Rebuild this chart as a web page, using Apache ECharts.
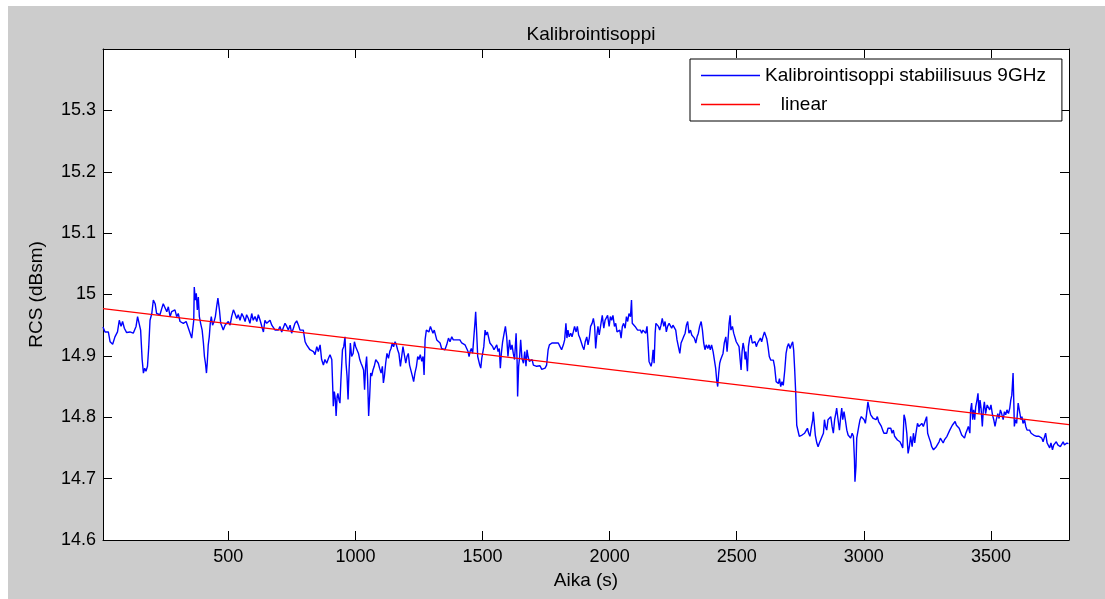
<!DOCTYPE html>
<html><head><meta charset="utf-8">
<script src="https://cdn.jsdelivr.net/npm/echarts@6/dist/echarts.min.js"></script>
<style>
html,body{margin:0;padding:0;background:#fff}
#c{width:1105px;height:599px;background:#cccccc;box-shadow:inset 8px 6px 0 0 #ffffff}
</style>
</head><body><div id="c"></div>
<script>
// Time (s)
const times = [
7,15,22,28,35,45,54,64,71,78,84,91,100,113,126,137,143,150,155,161,166,171,176,182,187,192,199,205,212,218,225,231,238,244,251,258,264,271,277,284,290,297,303,310,317,323,334,343,349,356,360,364,366,370,374,378,382,386,391,397,402,406,410,414,417,421,425,429,433,438,444,449,454,459,465,470,475,480,487,494,500,507,513,520,526,533,539,546,553,559,566,572,579,585,592,598,605,612,618,625,631,638,644,651,657,664,
671,677,684,690,697,703,710,717,723,730,736,743,749,756,762,769,776,782,789,795,802,808,815,821,828,835,841,848,854,861,867,874,880,887,894,900,907,911,913,917,921,924,928,931,935,939,943,949,954,959,963,967,971,975,980,985,991,996,1001,1006,1012,1017,1022,1027,1032,1036,1040,1044,1048,1052,1056,1060,1064,1069,1074,1080,1085,1090,1095,1101,1106,1110,1114,1119,1124,1130,1135,1140,1145,1150,1156,1161,1166,1171,1177,1182,1187,1192,1198,1203,1208,1213,1219,1224,1229,1234,1240,1245,1250,1255,1261,1266,1270,1274,1279,1284,1289,1295,1300,1305,1310,
1320,1326,1333,1339,1346,1352,1359,1366,1372,1379,1385,1392,1398,1405,1411,1418,1425,1431,1438,1443,1447,1451,1456,1461,1467,1470,1473,1477,1481,1485,1489,1493,1497,1501,1505,1510,1514,1519,1524,1529,1535,1540,1545,1550,1556,1561,1566,1570,1574,1579,1585,1590,1595,1600,1606,1611,1616,1621,1626,1632,1636,1638,1642,1646,1650,1655,1661,1666,1671,1675,1679,1684,1689,1695,1700,1706,1713,1720,1726,1733,1739,1746,1752,1758,1763,1768,1773,1779,1785,1792,1798,1805,1811,1818,1823,1828,1832,1836,1841,1847,1852,1857,1862,1868,1873,1878,1883,1889,1894,1899,1904,1910,1915,1920,1925,1931,1936,1941,1945,1949,1954,1959,
1966,1971,1977,1982,1987,1992,1998,2003,2008,2013,2019,2024,2029,2034,2040,2045,2050,2055,2061,2066,2071,2076,2082,2086,2089,2095,2100,2105,2110,2116,2121,2126,2131,2137,2142,2147,2151,2155,2159,2163,2167,2171,2175,2179,2182,2186,2192,2197,2202,2207,2213,2218,2223,2228,2234,2239,2244,2249,2255,2260,2265,2270,2276,2281,2286,2291,2297,2302,2307,2312,2318,2323,2328,2333,2339,2344,2349,2354,2360,2365,2370,2375,2380,2386,2391,2396,2401,2407,2412,2417,2421,2425,2429,2433,2437,2441,2446,2451,2457,2462,2467,2470,2474,2477,2483,2488,2493,2498,2504,2509,2513,2517,2521,2525,2529,2533,2536,2542,2546,2551,2556,2561,2567,2572,2577,2582,2588,2593,2598,2603,2609,
2618,2623,2628,2634,2639,2644,2649,2655,2660,2664,2668,2673,2678,2683,2689,2694,2699,2704,2710,2715,2720,2724,2728,2732,2736,2741,2746,2752,2757,2762,2767,2773,2778,2783,2788,2794,2799,2801,2805,2809,2815,2820,2825,2830,2836,2841,2845,2849,2854,2859,2864,2870,2875,2880,2885,2891,2893,2898,2904,2909,2913,2917,2922,2927,2933,2938,2943,2948,2954,2959,2963,2965,2969,2972,2976,2980,2985,2990,2996,3001,3006,3011,3016,3022,3027,3032,3037,3043,3048,3053,3058,3064,3069,3074,3079,3085,3090,3095,3100,3106,3111,3116,3121,3127,3132,3137,3142,3148,3153,3158,3163,3169,3174,3179,3184,3190,3195,3200,3205,3211,3216,
3228,3234,3241,3247,3251,3257,3262,3267,3274,3280,3285,3291,3296,3301,3306,3312,3317,3322,3327,3333,3338,3343,3348,3354,3359,3364,3369,3375,3380,3385,3390,3396,3401,3406,3411,3417,3420,3424,3428,3432,3436,3440,3445,3449,3453,3457,3461,3466,3470,3474,3479,3485,3490,3495,3500,3506,3511,3516,3521,3527,3532,3537,3542,3548,3553,3558,3563,3569,3574,3578,3582,3584,3587,3590,3592,3596,3601,3607,3611,3614,3618,3622,3626,3632,3637,3642,3647,3652,3658,3663,3668,3673,3679,3684,3689,3694,3700,3705,3710,3715,3721,3726,3731,3736,3742,3747,3752,3757,3763,3768,3773,3778,3784,3789,3794,3799,3805
];
// RCS (dBsm)
const rcs = [
14.947,14.939,14.937,14.939,14.923,14.919,14.931,14.939,14.958,14.948,14.956,14.945,14.938,14.939,14.937,14.948,14.964,14.967,14.942,14.894,14.872,14.880,14.875,14.883,14.915,14.958,14.969,14.991,14.985,14.969,14.972,14.967,14.977,14.985,14.983,14.972,14.980,14.964,14.972,14.969,14.975,14.964,14.969,14.956,14.958,14.953,14.956,14.945,14.942,14.929,14.926,14.958,15.012,14.991,15.002,14.975,14.996,14.964,14.953,14.942,14.921,14.899,14.888,14.872,14.888,14.918,14.931,14.953,14.964,14.950,14.956,14.964,14.980,14.994,14.975,14.953,14.948,14.942,14.950,14.948,14.956,14.950,14.964,14.975,14.969,14.961,14.967,14.958,14.969,14.964,14.956,14.967,14.961,14.953,14.969,14.958,14.964,14.956,14.967,14.958,14.961,14.939,14.958,14.953,14.956,14.958,
14.950,14.953,14.942,14.945,14.942,14.948,14.939,14.942,14.953,14.948,14.942,14.950,14.937,14.945,14.953,14.957,14.950,14.942,14.939,14.942,14.923,14.918,14.915,14.910,14.912,14.907,14.902,14.915,14.907,14.918,14.894,14.885,14.894,14.888,14.896,14.902,14.894,14.845,14.818,14.842,14.829,14.802,14.834,14.839,14.829,14.823,14.861,14.910,14.915,14.931,14.888,14.867,14.829,14.877,14.921,14.899,14.904,14.923,14.915,14.918,14.904,14.894,14.888,14.883,14.877,14.845,14.883,14.899,14.861,14.802,14.834,14.872,14.867,14.877,14.883,14.894,14.891,14.888,14.880,14.872,14.883,14.856,14.867,14.888,14.904,14.896,14.907,14.912,14.921,14.915,14.923,14.918,14.910,14.904,14.883,14.899,14.915,14.918,14.888,14.899,14.904,14.885,14.883,14.867,14.858,14.872,14.883,14.899,14.894,14.902,14.891,14.899,14.869,14.926,14.942,14.945,14.939,14.948,14.950,14.937,14.942,
14.926,14.923,14.921,14.912,14.915,14.910,14.918,14.929,14.923,14.931,14.926,14.929,14.926,14.923,14.926,14.921,14.923,14.918,14.918,14.907,14.899,14.907,14.912,14.904,14.937,14.953,14.972,14.937,14.899,14.896,14.885,14.880,14.896,14.894,14.915,14.942,14.934,14.939,14.942,14.921,14.918,14.915,14.910,14.912,14.918,14.907,14.912,14.880,14.904,14.923,14.937,14.948,14.931,14.899,14.926,14.910,14.918,14.904,14.894,14.937,14.891,14.834,14.883,14.899,14.926,14.896,14.888,14.907,14.883,14.910,14.899,14.891,14.888,14.894,14.885,14.888,14.883,14.880,14.884,14.878,14.877,14.880,14.885,14.910,14.918,14.915,14.921,14.923,14.921,14.918,14.921,14.915,14.910,14.918,14.926,14.953,14.929,14.942,14.931,14.937,14.931,14.939,14.948,14.939,14.948,14.934,14.929,14.926,14.915,14.910,14.923,14.931,14.918,14.929,14.948,14.953,14.961,14.948,14.912,14.931,14.948,14.934,
14.953,14.966,14.945,14.958,14.956,14.966,14.948,14.964,14.958,14.966,14.948,14.953,14.939,14.937,14.942,14.929,14.948,14.953,14.945,14.964,14.956,14.969,14.964,14.991,14.953,14.956,14.948,14.950,14.942,14.945,14.942,14.937,14.942,14.939,14.937,14.948,14.921,14.891,14.894,14.883,14.891,14.910,14.888,14.937,14.953,14.956,14.948,14.942,14.950,14.961,14.948,14.956,14.939,14.948,14.953,14.950,14.945,14.950,14.948,14.942,14.926,14.929,14.904,14.921,14.926,14.931,14.937,14.950,14.956,14.937,14.942,14.934,14.937,14.929,14.921,14.931,14.937,14.948,14.956,14.942,14.921,14.910,14.918,14.912,14.918,14.910,14.918,14.907,14.904,14.880,14.861,14.850,14.872,14.888,14.894,14.891,14.904,14.921,14.931,14.907,14.934,14.953,14.966,14.942,14.948,14.937,14.939,14.923,14.921,14.915,14.896,14.877,14.907,14.921,14.912,14.894,14.907,14.875,14.915,14.929,14.934,14.921,14.918,14.923,14.915,14.921,14.918,14.929,14.923,14.931,14.939,
14.928,14.915,14.899,14.893,14.890,14.893,14.882,14.858,14.861,14.855,14.863,14.850,14.858,14.852,14.877,14.904,14.915,14.920,14.912,14.918,14.923,14.909,14.877,14.839,14.787,14.785,14.769,14.766,14.771,14.769,14.774,14.777,14.782,14.774,14.769,14.785,14.796,14.809,14.790,14.771,14.758,14.752,14.758,14.763,14.769,14.774,14.796,14.785,14.779,14.796,14.796,14.801,14.785,14.774,14.796,14.809,14.815,14.798,14.779,14.801,14.815,14.796,14.809,14.796,14.779,14.771,14.774,14.766,14.774,14.769,14.731,14.695,14.720,14.766,14.769,14.785,14.796,14.801,14.798,14.796,14.790,14.806,14.825,14.812,14.804,14.806,14.798,14.801,14.796,14.801,14.793,14.796,14.785,14.779,14.774,14.771,14.774,14.782,14.779,14.782,14.774,14.779,14.769,14.771,14.763,14.766,14.760,14.755,14.750,14.804,14.796,14.774,14.741,14.752,14.769,14.752,14.774,14.758,14.774,14.790,14.785,
14.790,14.785,14.787,14.801,14.774,14.766,14.760,14.752,14.747,14.744,14.752,14.750,14.760,14.766,14.763,14.758,14.763,14.766,14.769,14.771,14.779,14.782,14.787,14.790,14.793,14.787,14.785,14.782,14.779,14.771,14.774,14.766,14.774,14.779,14.785,14.774,14.812,14.823,14.796,14.812,14.796,14.817,14.828,14.839,14.806,14.828,14.815,14.785,14.812,14.825,14.806,14.820,14.817,14.812,14.820,14.804,14.796,14.785,14.796,14.806,14.798,14.812,14.806,14.796,14.809,14.804,14.812,14.806,14.815,14.828,14.836,14.850,14.872,14.823,14.785,14.796,14.790,14.823,14.825,14.806,14.796,14.801,14.790,14.796,14.785,14.779,14.777,14.779,14.774,14.777,14.771,14.774,14.769,14.771,14.769,14.771,14.766,14.760,14.763,14.774,14.758,14.755,14.750,14.758,14.747,14.755,14.752,14.760,14.755,14.758,14.752,14.755,14.760,14.755,14.758,14.758,14.757
];
// Linear fit endpoints
const fitTimes = [7, 3807];
const fitValues = [14.977, 14.788];
// Axis ticks
const xTicks = [500, 1000, 1500, 2000, 2500, 3000, 3500];
const yTicks = [14.6, 14.7, 14.8, 14.9, 15, 15.1, 15.2, 15.3];
const xRange = [7, 3807];
const yRange = [14.6, 15.4];
const seriesNames = ['Kalibrointisoppi stabiilisuus 9GHz', '   linear'];

const font = "'Liberation Sans', Arial, Helvetica, sans-serif";
const n = Math.min(times.length, rcs.length);
const mainData = [];
for (let i = 0; i < n; i++) mainData.push([times[i], rcs[i]]);
const fitData = fitTimes.map((t, i) => [t, fitValues[i]]);

const axisLine = {show: true, onZero: false, lineStyle: {color: '#000', width: 1}};
const tickStyle = {color: '#000', width: 1};
const plainFmt = v => String(v);
const lineIcon = 'path://M0,0 L59,0 L59,1.4 L0,1.4 Z';

const chart = echarts.init(document.getElementById('c'), null, {renderer: 'canvas'});
chart.setOption({
  animation: false,
  backgroundColor: 'transparent',
  textStyle: {fontFamily: font},
  title: {
    text: 'Kalibrointisoppi', left: 586, top: 20, textAlign: 'center',
    textStyle: {fontSize: 19, fontWeight: 'normal', color: '#000', fontFamily: font}
  },
  grid: {left: 103, top: 49, right: 36, bottom: 59, show: true, backgroundColor: '#fff', borderWidth: 0, containLabel: false},
  legend: {
    orient: 'vertical', left: 690, top: 59,
    padding: [7, 16, 7, 11], itemGap: 10, itemWidth: 59, itemHeight: 19, itemTextGap: 6,
    backgroundColor: '#fff', borderColor: '#000', borderWidth: 1, borderRadius: 0,
    textStyle: {fontSize: 19, color: '#000', fontFamily: font},
    data: [
      {name: seriesNames[0], icon: lineIcon, itemStyle: {color: '#0000ff'}},
      {name: seriesNames[1], icon: lineIcon, itemStyle: {color: '#ff0000'}}
    ]
  },
  xAxis: [
    {type: 'value', position: 'bottom', min: xRange[0], max: xRange[1],
     axisLine: axisLine,
     axisTick: {show: true, inside: true, length: 9, customValues: xTicks, lineStyle: tickStyle},
     axisLabel: {customValues: xTicks, formatter: plainFmt, fontSize: 18, color: '#000', margin: 8, fontFamily: font},
     splitLine: {show: false},
     name: 'Aika (s)', nameLocation: 'middle', nameGap: 31,
     nameTextStyle: {fontSize: 19, color: '#000', fontFamily: font}},
    {type: 'value', position: 'top', min: xRange[0], max: xRange[1],
     axisLine: axisLine,
     axisTick: {show: true, inside: true, length: 9, customValues: xTicks, lineStyle: tickStyle},
     axisLabel: {show: false},
     splitLine: {show: false}}
  ],
  yAxis: [
    {type: 'value', position: 'left', min: yRange[0], max: yRange[1],
     axisLine: axisLine,
     axisTick: {show: true, inside: true, length: 9, customValues: yTicks, lineStyle: tickStyle},
     axisLabel: {customValues: yTicks, formatter: plainFmt, fontSize: 18, color: '#000', margin: 7, fontFamily: font},
     splitLine: {show: false},
     name: 'RCS (dBsm)', nameLocation: 'middle', nameGap: 57, nameRotate: 90,
     nameTextStyle: {fontSize: 19, color: '#000', fontFamily: font}},
    {type: 'value', position: 'right', min: yRange[0], max: yRange[1],
     axisLine: axisLine,
     axisTick: {show: true, inside: true, length: 9, customValues: yTicks, lineStyle: tickStyle},
     axisLabel: {show: false},
     splitLine: {show: false}}
  ],
  series: [
    {name: seriesNames[0], type: 'line', xAxisIndex: 0, yAxisIndex: 0, data: mainData,
     symbol: 'none', showSymbol: false, lineStyle: {color: '#0000ff', width: 1.4}, itemStyle: {color: '#0000ff'}, z: 2},
    {name: seriesNames[1], type: 'line', xAxisIndex: 0, yAxisIndex: 0, data: fitData,
     symbol: 'none', showSymbol: false, lineStyle: {color: '#ff0000', width: 1.4}, itemStyle: {color: '#ff0000'}, z: 3}
  ]
});
</script>
</body></html>
